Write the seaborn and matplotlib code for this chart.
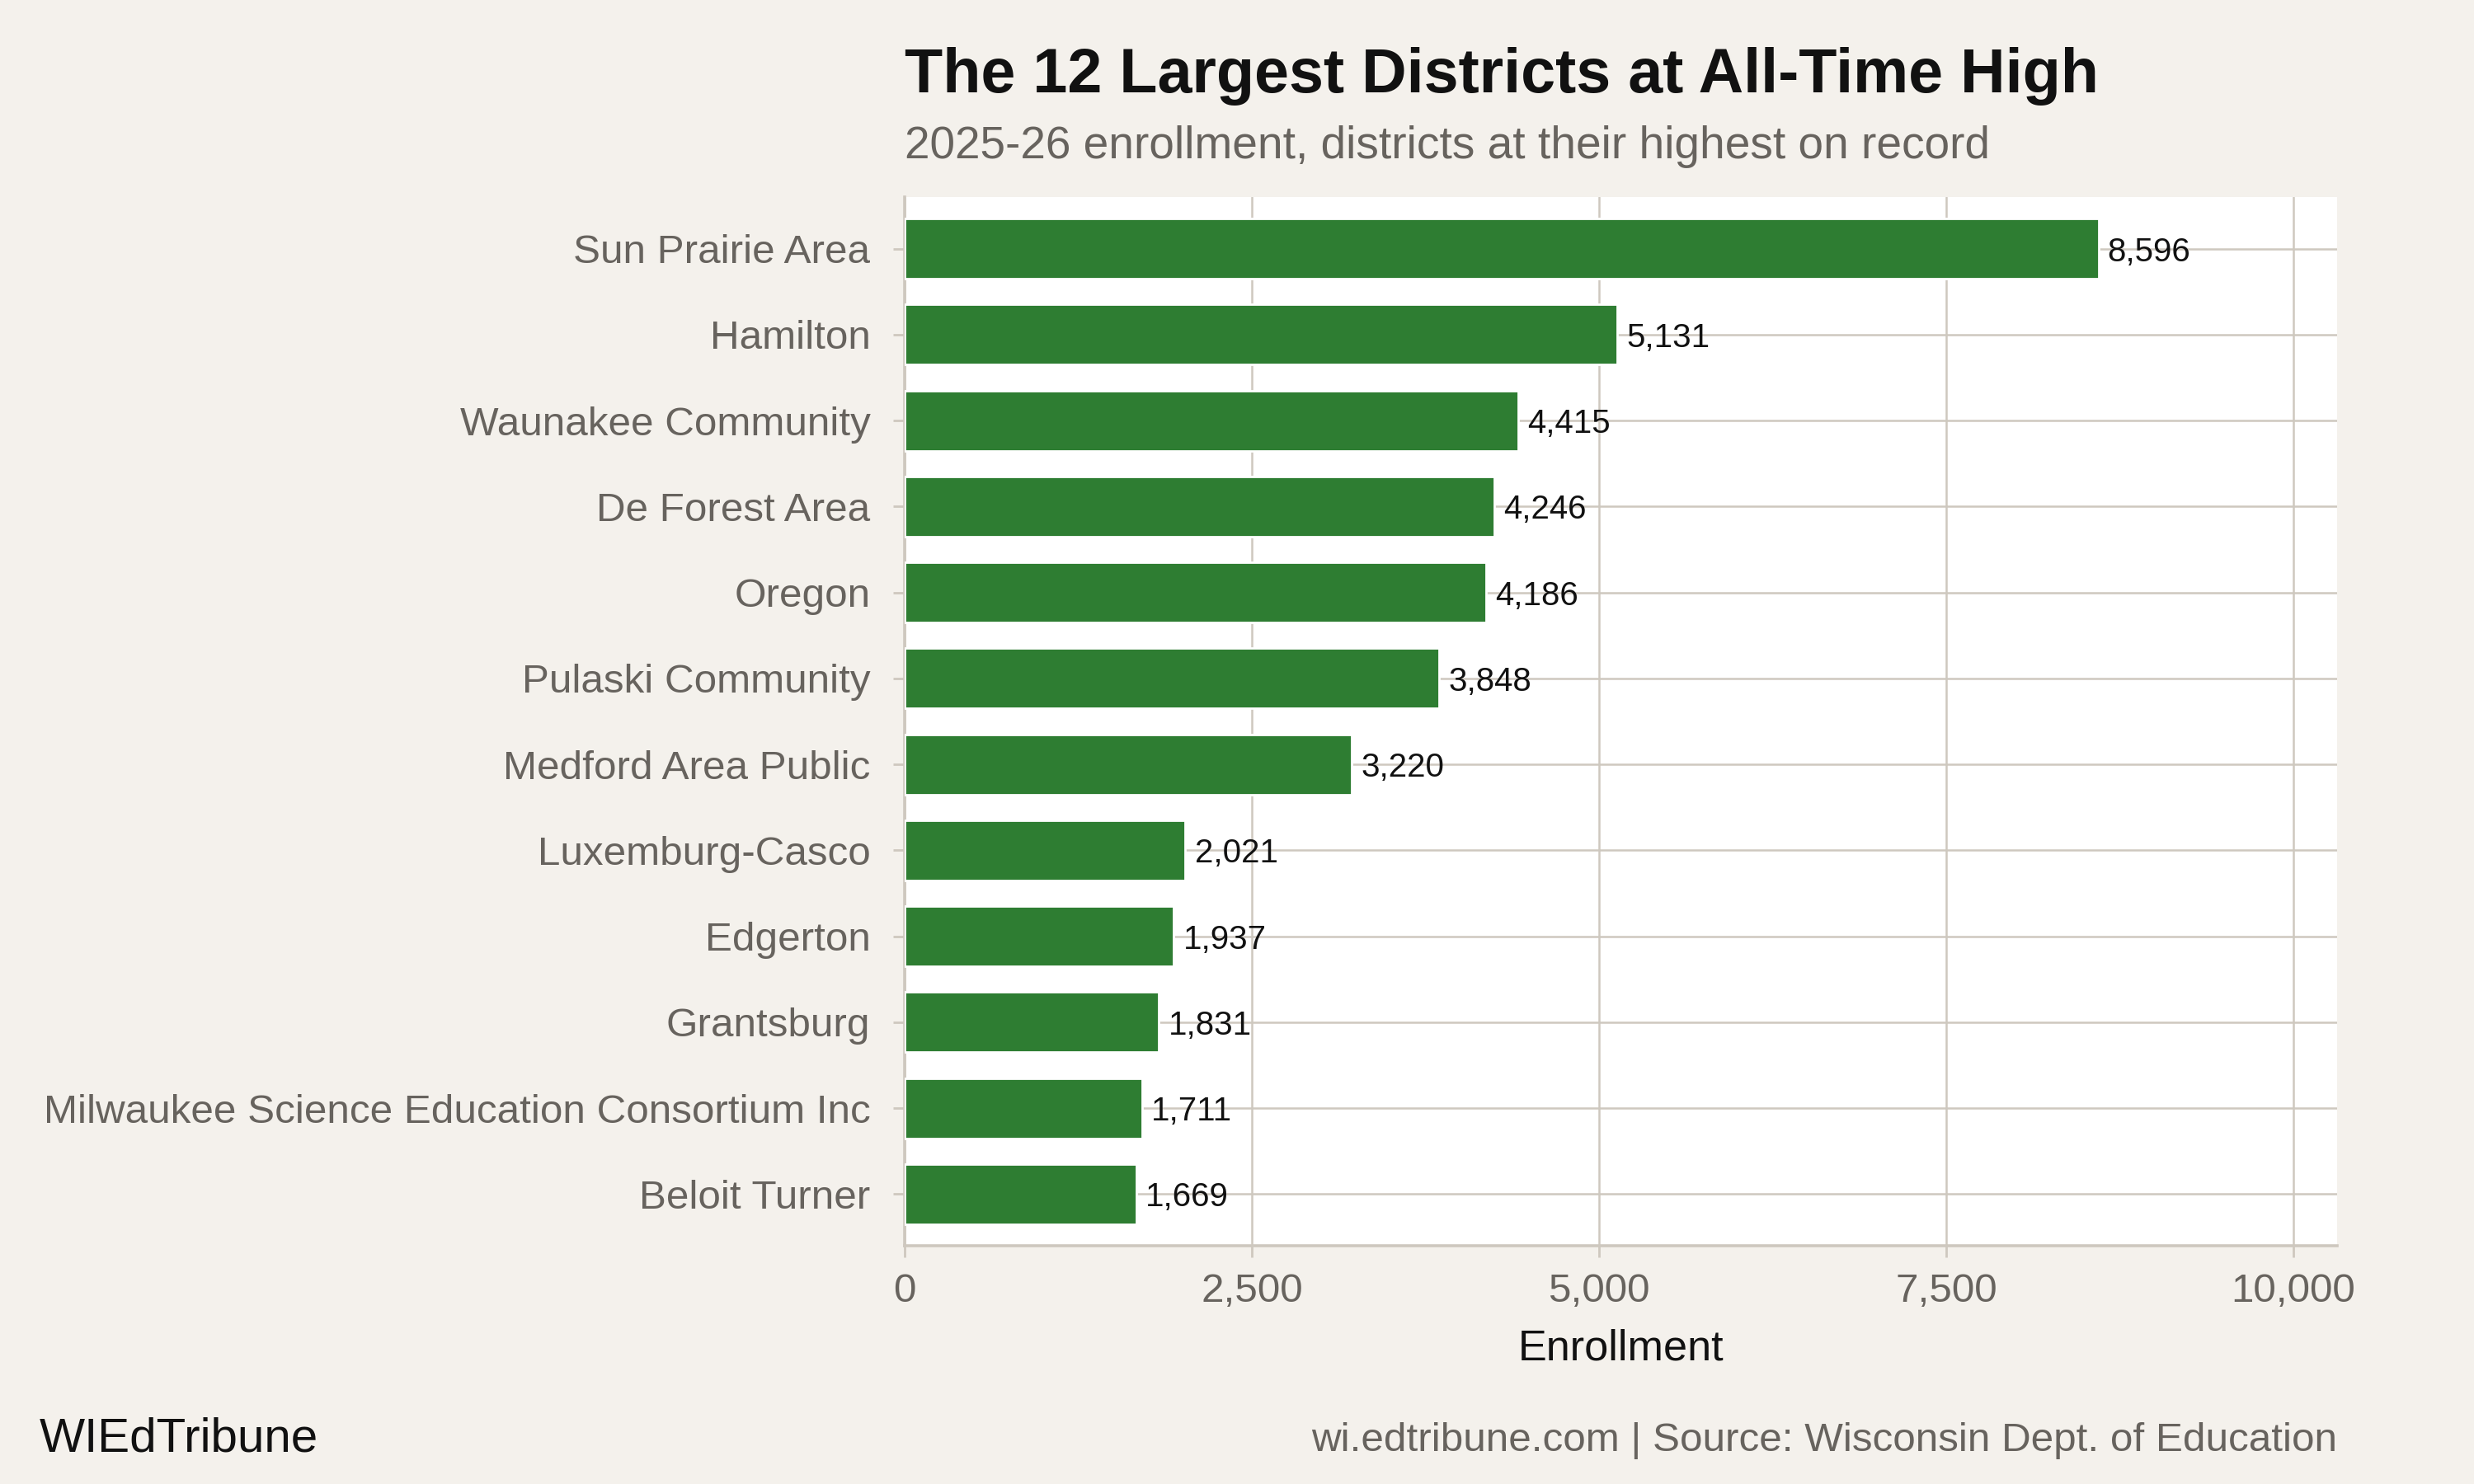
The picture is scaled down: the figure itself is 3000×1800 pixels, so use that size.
import matplotlib
matplotlib.use("Agg")
import matplotlib.pyplot as plt
import seaborn as sns
import pandas as pd
from matplotlib.ticker import FuncFormatter

districts = [
    "Sun Prairie Area", "Hamilton", "Waunakee Community", "De Forest Area",
    "Oregon", "Pulaski Community", "Medford Area Public", "Luxemburg-Casco",
    "Edgerton", "Grantsburg", "Milwaukee Science Education Consortium Inc",
    "Beloit Turner",
]
enrollment = [8596, 5131, 4415, 4246, 4186, 3848, 3220, 2021, 1937, 1831, 1711, 1669]
x_ticks = [0, 2500, 5000, 7500, 10000]

title = "The 12 Largest Districts at All-Time High"
subtitle = "2025-26 enrollment, districts at their highest on record"
caption = "wi.edtribune.com | Source: Wisconsin Dept. of Education"
brand = "WIEdTribune"

BG = "#F4F1EC"
GREEN = "#2E7D32"
GRID = "#CEC8BF"
GRAY = "#67635E"

sns.set_style("white")
plt.rcParams["font.family"] = ["Liberation Sans", "DejaVu Sans"]

df = pd.DataFrame({"district": districts, "enrollment": enrollment})

fig = plt.figure(figsize=(15, 9), dpi=200, facecolor=BG)
ax = fig.add_axes([0.3657, 0.1606, 0.5790, 0.7066])
ax.set_facecolor("white")

sns.barplot(data=df, x="enrollment", y="district", order=districts,
            color=GREEN, width=0.7, saturation=1, orient="h", ax=ax, zorder=3)

for c in ax.containers:
    texts = ax.bar_label(c, labels=[f"{v:,}" for v in enrollment], padding=4,
                         fontsize=14.5, color="#111111")
    for t in texts:
        t.set_va("center_baseline")

ax.set_xlim(0, 10315)
ax.set_ylim(11.6, -0.6)
ax.set_xticks(x_ticks)
ax.xaxis.set_major_formatter(FuncFormatter(lambda v, p: f"{int(v):,}"))

ax.set_axisbelow(True)
ax.grid(True, axis="both", color=GRID, linewidth=0.9)

for s in ["top", "right"]:
    ax.spines[s].set_visible(False)
for s in ["left", "bottom"]:
    ax.spines[s].set_visible(True)
    ax.spines[s].set_color(GRID)
    ax.spines[s].set_linewidth(1.3)

ax.tick_params(axis="y", length=5, width=1, color=GRID, pad=10,
               labelsize=17.8, labelcolor=GRAY, left=True)
ax.tick_params(axis="x", length=5, width=1, color=GRID, pad=7,
               labelsize=17.8, labelcolor=GRAY, bottom=True)

ax.set_ylabel("")
ax.set_xlabel("Enrollment", fontsize=18.8, color="#111111")
ax.xaxis.label.set_va("baseline")
ax.xaxis.set_label_coords(0.5, -0.1093)

fig.text(0.3657, 0.9378, title, fontsize=27.2, fontweight="bold",
         color="#111111", ha="left", va="baseline")
fig.text(0.3657, 0.8933, subtitle, fontsize=19.8, color=GRAY,
         ha="left", va="baseline")
fig.text(0.9447, 0.0222, caption, fontsize=17.8, color=GRAY,
         ha="right", va="baseline")
fig.text(0.016, 0.0222, brand, fontsize=21, color="#111111",
         ha="left", va="baseline")

fig.savefig("out.png", dpi=200, facecolor=BG)
